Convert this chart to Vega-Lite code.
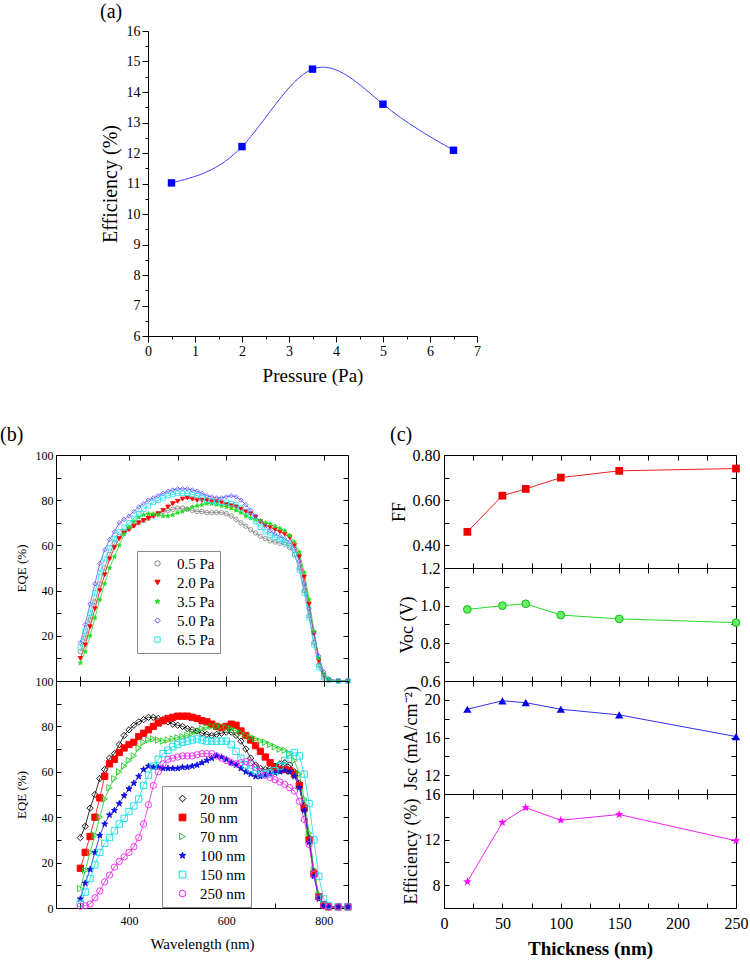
{
"$schema": "https://vega.github.io/schema/vega-lite/v6.json",
"background": "white",
"padding": {"left": 0, "top": 2, "right": 2, "bottom": 2},
"config": {
 "font": "Liberation Serif",
 "view": {"stroke": null},
 "axis": {"grid": false, "domainColor": "#000", "tickColor": "#000", "labelColor": "#000", "titleColor": "#000", "titleFontWeight": "normal", "labelFont": "Liberation Serif", "titleFont": "Liberation Serif", "labelFlush": false, "labelOverlap": false},
 "title": {"font": "Liberation Serif", "fontWeight": "normal", "color": "#000"},
 "legend": {"labelFont": "Liberation Serif", "labelColor": "#000"}
},
"datasets": {
 "pa": [{"p":0.5,"eff":11.02},{"p":2,"eff":12.21},{"p":3.5,"eff":14.75},{"p":5,"eff":13.6},{"p":6.5,"eff":12.09}],
 "thk": [
  {"t":20,"ff":0.46,"voc":0.98,"jsc":19.0,"eff":8.3},
  {"t":50,"ff":0.62,"voc":1.0,"jsc":19.9,"eff":13.5},
  {"t":70,"ff":0.65,"voc":1.01,"jsc":19.7,"eff":14.8},
  {"t":100,"ff":0.70,"voc":0.95,"jsc":19.0,"eff":13.7},
  {"t":150,"ff":0.73,"voc":0.93,"jsc":18.4,"eff":14.2},
  {"t":250,"ff":0.74,"voc":0.91,"jsc":16.1,"eff":11.9}
 ],
 "eqeP": [
{"s":"0.5 Pa","w":300,"e":13},{"s":"0.5 Pa","w":310,"e":19},{"s":"0.5 Pa","w":320,"e":27},{"s":"0.5 Pa","w":330,"e":35},{"s":"0.5 Pa","w":340,"e":43},{"s":"0.5 Pa","w":350,"e":50},{"s":"0.5 Pa","w":360,"e":56},{"s":"0.5 Pa","w":370,"e":61},{"s":"0.5 Pa","w":380,"e":64},{"s":"0.5 Pa","w":390,"e":66},{"s":"0.5 Pa","w":400,"e":67.5},
{"s":"0.5 Pa","w":410,"e":69},{"s":"0.5 Pa","w":420,"e":70},{"s":"0.5 Pa","w":430,"e":71},{"s":"0.5 Pa","w":440,"e":72},{"s":"0.5 Pa","w":450,"e":73},{"s":"0.5 Pa","w":460,"e":74},{"s":"0.5 Pa","w":470,"e":75},{"s":"0.5 Pa","w":480,"e":75.5},{"s":"0.5 Pa","w":490,"e":76},{"s":"0.5 Pa","w":500,"e":76.5},
{"s":"0.5 Pa","w":510,"e":76.5},{"s":"0.5 Pa","w":520,"e":76},{"s":"0.5 Pa","w":530,"e":75.5},{"s":"0.5 Pa","w":540,"e":75},{"s":"0.5 Pa","w":550,"e":75},{"s":"0.5 Pa","w":560,"e":74.5},{"s":"0.5 Pa","w":570,"e":74.5},{"s":"0.5 Pa","w":580,"e":74.5},{"s":"0.5 Pa","w":590,"e":74.5},{"s":"0.5 Pa","w":600,"e":74},
{"s":"0.5 Pa","w":610,"e":73},{"s":"0.5 Pa","w":620,"e":71.5},{"s":"0.5 Pa","w":630,"e":70},{"s":"0.5 Pa","w":640,"e":68.5},{"s":"0.5 Pa","w":650,"e":67},{"s":"0.5 Pa","w":660,"e":65.5},{"s":"0.5 Pa","w":670,"e":64},{"s":"0.5 Pa","w":680,"e":63},{"s":"0.5 Pa","w":690,"e":62},{"s":"0.5 Pa","w":700,"e":61.5},
{"s":"0.5 Pa","w":710,"e":61},{"s":"0.5 Pa","w":720,"e":60.5},{"s":"0.5 Pa","w":730,"e":59},{"s":"0.5 Pa","w":740,"e":56},{"s":"0.5 Pa","w":750,"e":50},{"s":"0.5 Pa","w":760,"e":40},{"s":"0.5 Pa","w":770,"e":29},{"s":"0.5 Pa","w":780,"e":17},{"s":"0.5 Pa","w":790,"e":7},{"s":"0.5 Pa","w":800,"e":2},{"s":"0.5 Pa","w":810,"e":0.5},{"s":"0.5 Pa","w":830,"e":0},{"s":"0.5 Pa","w":850,"e":0},
{"s":"2.0 Pa","w":300,"e":10},{"s":"2.0 Pa","w":310,"e":16},{"s":"2.0 Pa","w":320,"e":24},{"s":"2.0 Pa","w":330,"e":32},{"s":"2.0 Pa","w":340,"e":40},{"s":"2.0 Pa","w":350,"e":47},{"s":"2.0 Pa","w":360,"e":54},{"s":"2.0 Pa","w":370,"e":59},{"s":"2.0 Pa","w":380,"e":63},{"s":"2.0 Pa","w":390,"e":65.5},{"s":"2.0 Pa","w":400,"e":67},
{"s":"2.0 Pa","w":410,"e":68.5},{"s":"2.0 Pa","w":420,"e":70},{"s":"2.0 Pa","w":430,"e":71},{"s":"2.0 Pa","w":440,"e":72},{"s":"2.0 Pa","w":450,"e":73},{"s":"2.0 Pa","w":460,"e":74},{"s":"2.0 Pa","w":470,"e":75.5},{"s":"2.0 Pa","w":480,"e":77},{"s":"2.0 Pa","w":490,"e":78.5},{"s":"2.0 Pa","w":500,"e":79.5},
{"s":"2.0 Pa","w":510,"e":80.5},{"s":"2.0 Pa","w":520,"e":81},{"s":"2.0 Pa","w":530,"e":80.5},{"s":"2.0 Pa","w":540,"e":80},{"s":"2.0 Pa","w":550,"e":80},{"s":"2.0 Pa","w":560,"e":80},{"s":"2.0 Pa","w":570,"e":79.5},{"s":"2.0 Pa","w":580,"e":79.5},{"s":"2.0 Pa","w":590,"e":79},{"s":"2.0 Pa","w":600,"e":78},
{"s":"2.0 Pa","w":610,"e":77.5},{"s":"2.0 Pa","w":620,"e":77},{"s":"2.0 Pa","w":630,"e":76},{"s":"2.0 Pa","w":640,"e":75},{"s":"2.0 Pa","w":650,"e":74},{"s":"2.0 Pa","w":660,"e":72.5},{"s":"2.0 Pa","w":670,"e":70.5},{"s":"2.0 Pa","w":680,"e":69},{"s":"2.0 Pa","w":690,"e":68},{"s":"2.0 Pa","w":700,"e":67},
{"s":"2.0 Pa","w":710,"e":66},{"s":"2.0 Pa","w":720,"e":65},{"s":"2.0 Pa","w":730,"e":63.5},{"s":"2.0 Pa","w":740,"e":60},{"s":"2.0 Pa","w":750,"e":55},{"s":"2.0 Pa","w":760,"e":46},{"s":"2.0 Pa","w":770,"e":34},{"s":"2.0 Pa","w":780,"e":21},{"s":"2.0 Pa","w":790,"e":9},{"s":"2.0 Pa","w":800,"e":2.5},{"s":"2.0 Pa","w":810,"e":0.5},{"s":"2.0 Pa","w":830,"e":0},{"s":"2.0 Pa","w":850,"e":0},
{"s":"3.5 Pa","w":300,"e":8},{"s":"3.5 Pa","w":310,"e":13},{"s":"3.5 Pa","w":320,"e":20},{"s":"3.5 Pa","w":330,"e":28},{"s":"3.5 Pa","w":340,"e":36},{"s":"3.5 Pa","w":350,"e":43},{"s":"3.5 Pa","w":360,"e":50},{"s":"3.5 Pa","w":370,"e":55},{"s":"3.5 Pa","w":380,"e":60},{"s":"3.5 Pa","w":390,"e":65},{"s":"3.5 Pa","w":400,"e":68},
{"s":"3.5 Pa","w":410,"e":70.5},{"s":"3.5 Pa","w":420,"e":72.5},{"s":"3.5 Pa","w":430,"e":73.5},{"s":"3.5 Pa","w":440,"e":74},{"s":"3.5 Pa","w":450,"e":74},{"s":"3.5 Pa","w":460,"e":73.5},{"s":"3.5 Pa","w":470,"e":73},{"s":"3.5 Pa","w":480,"e":73},{"s":"3.5 Pa","w":490,"e":73.5},{"s":"3.5 Pa","w":500,"e":74.5},
{"s":"3.5 Pa","w":510,"e":75},{"s":"3.5 Pa","w":520,"e":76},{"s":"3.5 Pa","w":530,"e":77},{"s":"3.5 Pa","w":540,"e":77.5},{"s":"3.5 Pa","w":550,"e":78},{"s":"3.5 Pa","w":560,"e":78.5},{"s":"3.5 Pa","w":570,"e":78.5},{"s":"3.5 Pa","w":580,"e":78},{"s":"3.5 Pa","w":590,"e":77.5},{"s":"3.5 Pa","w":600,"e":77},
{"s":"3.5 Pa","w":610,"e":76.5},{"s":"3.5 Pa","w":620,"e":75.5},{"s":"3.5 Pa","w":630,"e":74.5},{"s":"3.5 Pa","w":640,"e":73},{"s":"3.5 Pa","w":650,"e":72},{"s":"3.5 Pa","w":660,"e":71.5},{"s":"3.5 Pa","w":670,"e":71},{"s":"3.5 Pa","w":680,"e":70},{"s":"3.5 Pa","w":690,"e":69.5},{"s":"3.5 Pa","w":700,"e":68.5},
{"s":"3.5 Pa","w":710,"e":67.5},{"s":"3.5 Pa","w":720,"e":66.5},{"s":"3.5 Pa","w":730,"e":64.5},{"s":"3.5 Pa","w":740,"e":61.5},{"s":"3.5 Pa","w":750,"e":57},{"s":"3.5 Pa","w":760,"e":48},{"s":"3.5 Pa","w":770,"e":36},{"s":"3.5 Pa","w":780,"e":22},{"s":"3.5 Pa","w":790,"e":10},{"s":"3.5 Pa","w":800,"e":3},{"s":"3.5 Pa","w":810,"e":0.5},{"s":"3.5 Pa","w":830,"e":0},{"s":"3.5 Pa","w":850,"e":0},
{"s":"5.0 Pa","w":300,"e":17},{"s":"5.0 Pa","w":310,"e":25},{"s":"5.0 Pa","w":320,"e":34},{"s":"5.0 Pa","w":330,"e":43},{"s":"5.0 Pa","w":340,"e":52},{"s":"5.0 Pa","w":350,"e":58},{"s":"5.0 Pa","w":360,"e":62.5},{"s":"5.0 Pa","w":370,"e":66},{"s":"5.0 Pa","w":380,"e":70},{"s":"5.0 Pa","w":390,"e":71.5},{"s":"5.0 Pa","w":400,"e":73},
{"s":"5.0 Pa","w":410,"e":75},{"s":"5.0 Pa","w":420,"e":77},{"s":"5.0 Pa","w":430,"e":78.5},{"s":"5.0 Pa","w":440,"e":80},{"s":"5.0 Pa","w":450,"e":81},{"s":"5.0 Pa","w":460,"e":82},{"s":"5.0 Pa","w":470,"e":83},{"s":"5.0 Pa","w":480,"e":84},{"s":"5.0 Pa","w":490,"e":84.5},{"s":"5.0 Pa","w":500,"e":85},
{"s":"5.0 Pa","w":510,"e":85},{"s":"5.0 Pa","w":520,"e":85},{"s":"5.0 Pa","w":530,"e":84.5},{"s":"5.0 Pa","w":540,"e":84},{"s":"5.0 Pa","w":550,"e":83},{"s":"5.0 Pa","w":560,"e":82},{"s":"5.0 Pa","w":570,"e":81.5},{"s":"5.0 Pa","w":580,"e":81},{"s":"5.0 Pa","w":590,"e":81},{"s":"5.0 Pa","w":600,"e":81.5},
{"s":"5.0 Pa","w":610,"e":82},{"s":"5.0 Pa","w":620,"e":81.5},{"s":"5.0 Pa","w":630,"e":80},{"s":"5.0 Pa","w":640,"e":78},{"s":"5.0 Pa","w":650,"e":75.5},{"s":"5.0 Pa","w":660,"e":73},{"s":"5.0 Pa","w":670,"e":70.5},{"s":"5.0 Pa","w":680,"e":68.5},{"s":"5.0 Pa","w":690,"e":66.5},{"s":"5.0 Pa","w":700,"e":65},
{"s":"5.0 Pa","w":710,"e":64},{"s":"5.0 Pa","w":720,"e":63},{"s":"5.0 Pa","w":730,"e":61.5},{"s":"5.0 Pa","w":740,"e":58.5},{"s":"5.0 Pa","w":750,"e":53},{"s":"5.0 Pa","w":760,"e":43},{"s":"5.0 Pa","w":770,"e":32},{"s":"5.0 Pa","w":780,"e":21},{"s":"5.0 Pa","w":790,"e":11},{"s":"5.0 Pa","w":800,"e":4},{"s":"5.0 Pa","w":810,"e":1},{"s":"5.0 Pa","w":830,"e":0},{"s":"5.0 Pa","w":850,"e":0},
{"s":"6.5 Pa","w":300,"e":15},{"s":"6.5 Pa","w":310,"e":22},{"s":"6.5 Pa","w":320,"e":30},{"s":"6.5 Pa","w":330,"e":39},{"s":"6.5 Pa","w":340,"e":48},{"s":"6.5 Pa","w":350,"e":54},{"s":"6.5 Pa","w":360,"e":59},{"s":"6.5 Pa","w":370,"e":63},{"s":"6.5 Pa","w":380,"e":66},{"s":"6.5 Pa","w":390,"e":68},{"s":"6.5 Pa","w":400,"e":70},
{"s":"6.5 Pa","w":410,"e":72},{"s":"6.5 Pa","w":420,"e":74},{"s":"6.5 Pa","w":430,"e":76},{"s":"6.5 Pa","w":440,"e":77.5},{"s":"6.5 Pa","w":450,"e":79},{"s":"6.5 Pa","w":460,"e":80},{"s":"6.5 Pa","w":470,"e":81},{"s":"6.5 Pa","w":480,"e":82},{"s":"6.5 Pa","w":490,"e":82.5},{"s":"6.5 Pa","w":500,"e":83},
{"s":"6.5 Pa","w":510,"e":83},{"s":"6.5 Pa","w":520,"e":83},{"s":"6.5 Pa","w":530,"e":82.5},{"s":"6.5 Pa","w":540,"e":82},{"s":"6.5 Pa","w":550,"e":81},{"s":"6.5 Pa","w":560,"e":80},{"s":"6.5 Pa","w":570,"e":79.5},{"s":"6.5 Pa","w":580,"e":79},{"s":"6.5 Pa","w":590,"e":79},{"s":"6.5 Pa","w":600,"e":79},
{"s":"6.5 Pa","w":610,"e":78.5},{"s":"6.5 Pa","w":620,"e":78},{"s":"6.5 Pa","w":630,"e":76.5},{"s":"6.5 Pa","w":640,"e":75},{"s":"6.5 Pa","w":650,"e":73},{"s":"6.5 Pa","w":660,"e":70.5},{"s":"6.5 Pa","w":670,"e":68},{"s":"6.5 Pa","w":680,"e":66},{"s":"6.5 Pa","w":690,"e":64.5},{"s":"6.5 Pa","w":700,"e":63.5},
{"s":"6.5 Pa","w":710,"e":62.5},{"s":"6.5 Pa","w":720,"e":61.5},{"s":"6.5 Pa","w":730,"e":60},{"s":"6.5 Pa","w":740,"e":56},{"s":"6.5 Pa","w":750,"e":49},{"s":"6.5 Pa","w":760,"e":39},{"s":"6.5 Pa","w":770,"e":28},{"s":"6.5 Pa","w":780,"e":16},{"s":"6.5 Pa","w":790,"e":6},{"s":"6.5 Pa","w":800,"e":1.5},{"s":"6.5 Pa","w":810,"e":0.5},{"s":"6.5 Pa","w":830,"e":0},{"s":"6.5 Pa","w":850,"e":0}
 ],
 "eqeT": [
{"s":"20 nm","w":300,"e":31},{"s":"20 nm","w":310,"e":36},{"s":"20 nm","w":320,"e":44},{"s":"20 nm","w":330,"e":50},{"s":"20 nm","w":340,"e":57},{"s":"20 nm","w":350,"e":61},{"s":"20 nm","w":360,"e":66},{"s":"20 nm","w":370,"e":68},{"s":"20 nm","w":380,"e":72},{"s":"20 nm","w":390,"e":76},{"s":"20 nm","w":400,"e":78.5},
{"s":"20 nm","w":410,"e":80.5},{"s":"20 nm","w":420,"e":82},{"s":"20 nm","w":430,"e":83},{"s":"20 nm","w":440,"e":84},{"s":"20 nm","w":450,"e":84},{"s":"20 nm","w":460,"e":83.5},{"s":"20 nm","w":470,"e":83},{"s":"20 nm","w":480,"e":82},{"s":"20 nm","w":490,"e":81},{"s":"20 nm","w":500,"e":80.5},
{"s":"20 nm","w":510,"e":80},{"s":"20 nm","w":520,"e":79},{"s":"20 nm","w":530,"e":78.5},{"s":"20 nm","w":540,"e":78},{"s":"20 nm","w":550,"e":77},{"s":"20 nm","w":560,"e":76.5},{"s":"20 nm","w":570,"e":76},{"s":"20 nm","w":580,"e":76.5},{"s":"20 nm","w":590,"e":77},{"s":"20 nm","w":600,"e":77.5},
{"s":"20 nm","w":610,"e":77.5},{"s":"20 nm","w":620,"e":76},{"s":"20 nm","w":630,"e":73.5},{"s":"20 nm","w":640,"e":70},{"s":"20 nm","w":650,"e":66},{"s":"20 nm","w":660,"e":63},{"s":"20 nm","w":670,"e":61.5},{"s":"20 nm","w":680,"e":61},{"s":"20 nm","w":690,"e":61.5},{"s":"20 nm","w":700,"e":62.5},
{"s":"20 nm","w":710,"e":63.5},{"s":"20 nm","w":720,"e":64},{"s":"20 nm","w":730,"e":63},{"s":"20 nm","w":740,"e":60},{"s":"20 nm","w":750,"e":55},{"s":"20 nm","w":760,"e":45},{"s":"20 nm","w":770,"e":31},{"s":"20 nm","w":780,"e":16},{"s":"20 nm","w":790,"e":5},{"s":"20 nm","w":800,"e":1.5},{"s":"20 nm","w":810,"e":0.5},{"s":"20 nm","w":830,"e":0.5},{"s":"20 nm","w":850,"e":0.5},
{"s":"50 nm","w":300,"e":17.5},{"s":"50 nm","w":310,"e":24.5},{"s":"50 nm","w":320,"e":31.5},{"s":"50 nm","w":330,"e":40},{"s":"50 nm","w":340,"e":48.5},{"s":"50 nm","w":350,"e":58},{"s":"50 nm","w":360,"e":63.5},{"s":"50 nm","w":370,"e":65.5},{"s":"50 nm","w":380,"e":68.5},{"s":"50 nm","w":390,"e":70.5},{"s":"50 nm","w":400,"e":72},
{"s":"50 nm","w":410,"e":73},{"s":"50 nm","w":420,"e":75.5},{"s":"50 nm","w":430,"e":77},{"s":"50 nm","w":440,"e":78.5},{"s":"50 nm","w":450,"e":80},{"s":"50 nm","w":460,"e":81.5},{"s":"50 nm","w":470,"e":82.5},{"s":"50 nm","w":480,"e":83.5},{"s":"50 nm","w":490,"e":84},{"s":"50 nm","w":500,"e":84.5},
{"s":"50 nm","w":510,"e":84.5},{"s":"50 nm","w":520,"e":84.5},{"s":"50 nm","w":530,"e":84},{"s":"50 nm","w":540,"e":83.5},{"s":"50 nm","w":550,"e":82.5},{"s":"50 nm","w":560,"e":82},{"s":"50 nm","w":570,"e":81},{"s":"50 nm","w":580,"e":80},{"s":"50 nm","w":590,"e":79.5},{"s":"50 nm","w":600,"e":80},
{"s":"50 nm","w":610,"e":81},{"s":"50 nm","w":620,"e":80.5},{"s":"50 nm","w":630,"e":78},{"s":"50 nm","w":640,"e":76},{"s":"50 nm","w":650,"e":74},{"s":"50 nm","w":660,"e":71.5},{"s":"50 nm","w":670,"e":69},{"s":"50 nm","w":680,"e":66.5},{"s":"50 nm","w":690,"e":64},{"s":"50 nm","w":700,"e":62},
{"s":"50 nm","w":710,"e":61},{"s":"50 nm","w":720,"e":61},{"s":"50 nm","w":730,"e":60.5},{"s":"50 nm","w":740,"e":59},{"s":"50 nm","w":750,"e":54},{"s":"50 nm","w":760,"e":44},{"s":"50 nm","w":770,"e":30},{"s":"50 nm","w":780,"e":15},{"s":"50 nm","w":790,"e":5},{"s":"50 nm","w":800,"e":1.5},{"s":"50 nm","w":810,"e":0.5},{"s":"50 nm","w":830,"e":0.5},{"s":"50 nm","w":850,"e":0.5},
{"s":"70 nm","w":300,"e":8.5},{"s":"70 nm","w":310,"e":16.5},{"s":"70 nm","w":320,"e":24.5},{"s":"70 nm","w":330,"e":32},{"s":"70 nm","w":340,"e":40},{"s":"70 nm","w":350,"e":48},{"s":"70 nm","w":360,"e":53},{"s":"70 nm","w":370,"e":57},{"s":"70 nm","w":380,"e":60},{"s":"70 nm","w":390,"e":62.5},{"s":"70 nm","w":400,"e":65},
{"s":"70 nm","w":410,"e":67},{"s":"70 nm","w":420,"e":70.5},{"s":"70 nm","w":430,"e":73},{"s":"70 nm","w":440,"e":74},{"s":"70 nm","w":450,"e":74.5},{"s":"70 nm","w":460,"e":74},{"s":"70 nm","w":470,"e":73.5},{"s":"70 nm","w":480,"e":74},{"s":"70 nm","w":490,"e":74.5},{"s":"70 nm","w":500,"e":75},
{"s":"70 nm","w":510,"e":75.5},{"s":"70 nm","w":520,"e":76},{"s":"70 nm","w":530,"e":77},{"s":"70 nm","w":540,"e":78},{"s":"70 nm","w":550,"e":79},{"s":"70 nm","w":560,"e":79.5},{"s":"70 nm","w":570,"e":80},{"s":"70 nm","w":580,"e":80},{"s":"70 nm","w":590,"e":80},{"s":"70 nm","w":600,"e":79.5},
{"s":"70 nm","w":610,"e":79},{"s":"70 nm","w":620,"e":78},{"s":"70 nm","w":630,"e":77},{"s":"70 nm","w":640,"e":76},{"s":"70 nm","w":650,"e":75.5},{"s":"70 nm","w":660,"e":74.5},{"s":"70 nm","w":670,"e":73.5},{"s":"70 nm","w":680,"e":73},{"s":"70 nm","w":690,"e":72},{"s":"70 nm","w":700,"e":71},
{"s":"70 nm","w":710,"e":70},{"s":"70 nm","w":720,"e":69.5},{"s":"70 nm","w":730,"e":68},{"s":"70 nm","w":740,"e":65},{"s":"70 nm","w":750,"e":59},{"s":"70 nm","w":760,"e":48},{"s":"70 nm","w":770,"e":33},{"s":"70 nm","w":780,"e":17},{"s":"70 nm","w":790,"e":6},{"s":"70 nm","w":800,"e":1.5},{"s":"70 nm","w":810,"e":0.5},{"s":"70 nm","w":830,"e":0.5},{"s":"70 nm","w":850,"e":0.5},
{"s":"100 nm","w":300,"e":4},{"s":"100 nm","w":310,"e":11},{"s":"100 nm","w":320,"e":17},{"s":"100 nm","w":330,"e":24.5},{"s":"100 nm","w":340,"e":32},{"s":"100 nm","w":350,"e":37},{"s":"100 nm","w":360,"e":41},{"s":"100 nm","w":370,"e":43},{"s":"100 nm","w":380,"e":46},{"s":"100 nm","w":390,"e":49.5},{"s":"100 nm","w":400,"e":52.5},
{"s":"100 nm","w":410,"e":55},{"s":"100 nm","w":420,"e":58},{"s":"100 nm","w":430,"e":61},{"s":"100 nm","w":440,"e":62.5},{"s":"100 nm","w":450,"e":62},{"s":"100 nm","w":460,"e":62},{"s":"100 nm","w":470,"e":61.5},{"s":"100 nm","w":480,"e":61.5},{"s":"100 nm","w":490,"e":61.5},{"s":"100 nm","w":500,"e":61.5},
{"s":"100 nm","w":510,"e":62},{"s":"100 nm","w":520,"e":62},{"s":"100 nm","w":530,"e":62.5},{"s":"100 nm","w":540,"e":63},{"s":"100 nm","w":550,"e":64},{"s":"100 nm","w":560,"e":65},{"s":"100 nm","w":570,"e":66},{"s":"100 nm","w":580,"e":67},{"s":"100 nm","w":590,"e":66.5},{"s":"100 nm","w":600,"e":65.5},
{"s":"100 nm","w":610,"e":64},{"s":"100 nm","w":620,"e":63},{"s":"100 nm","w":630,"e":61.5},{"s":"100 nm","w":640,"e":60},{"s":"100 nm","w":650,"e":59},{"s":"100 nm","w":660,"e":58},{"s":"100 nm","w":670,"e":58},{"s":"100 nm","w":680,"e":58.5},{"s":"100 nm","w":690,"e":59},{"s":"100 nm","w":700,"e":59.5},
{"s":"100 nm","w":710,"e":60},{"s":"100 nm","w":720,"e":60.5},{"s":"100 nm","w":730,"e":60},{"s":"100 nm","w":740,"e":58},{"s":"100 nm","w":750,"e":53},{"s":"100 nm","w":760,"e":43},{"s":"100 nm","w":770,"e":29},{"s":"100 nm","w":780,"e":14},{"s":"100 nm","w":790,"e":4},{"s":"100 nm","w":800,"e":1},{"s":"100 nm","w":810,"e":0.5},{"s":"100 nm","w":830,"e":0.5},{"s":"100 nm","w":850,"e":0.5},
{"s":"150 nm","w":300,"e":2},{"s":"150 nm","w":310,"e":7},{"s":"150 nm","w":320,"e":13},{"s":"150 nm","w":330,"e":19},{"s":"150 nm","w":340,"e":24.5},{"s":"150 nm","w":350,"e":28.5},{"s":"150 nm","w":360,"e":31},{"s":"150 nm","w":370,"e":34},{"s":"150 nm","w":380,"e":37},{"s":"150 nm","w":390,"e":39.5},{"s":"150 nm","w":400,"e":42.5},
{"s":"150 nm","w":410,"e":45},{"s":"150 nm","w":420,"e":48},{"s":"150 nm","w":430,"e":54},{"s":"150 nm","w":440,"e":58.5},{"s":"150 nm","w":450,"e":62.5},{"s":"150 nm","w":460,"e":65.5},{"s":"150 nm","w":470,"e":68},{"s":"150 nm","w":480,"e":69.5},{"s":"150 nm","w":490,"e":71},{"s":"150 nm","w":500,"e":72},
{"s":"150 nm","w":510,"e":73},{"s":"150 nm","w":520,"e":73.5},{"s":"150 nm","w":530,"e":74},{"s":"150 nm","w":540,"e":74.5},{"s":"150 nm","w":550,"e":74},{"s":"150 nm","w":560,"e":73.5},{"s":"150 nm","w":570,"e":73.5},{"s":"150 nm","w":580,"e":73.5},{"s":"150 nm","w":590,"e":73.5},{"s":"150 nm","w":600,"e":73.5},
{"s":"150 nm","w":610,"e":72},{"s":"150 nm","w":620,"e":69},{"s":"150 nm","w":630,"e":66},{"s":"150 nm","w":640,"e":63},{"s":"150 nm","w":650,"e":61.5},{"s":"150 nm","w":660,"e":60.5},{"s":"150 nm","w":670,"e":59.5},{"s":"150 nm","w":680,"e":59},{"s":"150 nm","w":690,"e":59.5},{"s":"150 nm","w":700,"e":60.5},
{"s":"150 nm","w":710,"e":62.5},{"s":"150 nm","w":720,"e":65},{"s":"150 nm","w":730,"e":67.5},{"s":"150 nm","w":740,"e":68.5},{"s":"150 nm","w":750,"e":67},{"s":"150 nm","w":760,"e":59},{"s":"150 nm","w":770,"e":46},{"s":"150 nm","w":780,"e":30},{"s":"150 nm","w":790,"e":14},{"s":"150 nm","w":800,"e":4},{"s":"150 nm","w":810,"e":1},{"s":"150 nm","w":830,"e":0.5},{"s":"150 nm","w":850,"e":0.5},
{"s":"250 nm","w":300,"e":0.8},{"s":"250 nm","w":310,"e":1},{"s":"250 nm","w":320,"e":1.8},{"s":"250 nm","w":330,"e":4.5},{"s":"250 nm","w":340,"e":7.5},{"s":"250 nm","w":350,"e":11.5},{"s":"250 nm","w":360,"e":14.5},{"s":"250 nm","w":370,"e":18},{"s":"250 nm","w":380,"e":20.5},{"s":"250 nm","w":390,"e":22.5},{"s":"250 nm","w":400,"e":24.5},
{"s":"250 nm","w":410,"e":27},{"s":"250 nm","w":420,"e":31},{"s":"250 nm","w":430,"e":37},{"s":"250 nm","w":440,"e":45.5},{"s":"250 nm","w":450,"e":54},{"s":"250 nm","w":460,"e":60},{"s":"250 nm","w":470,"e":63.5},{"s":"250 nm","w":480,"e":65.5},{"s":"250 nm","w":490,"e":66},{"s":"250 nm","w":500,"e":66.5},
{"s":"250 nm","w":510,"e":67},{"s":"250 nm","w":520,"e":67},{"s":"250 nm","w":530,"e":67},{"s":"250 nm","w":540,"e":67.5},{"s":"250 nm","w":550,"e":68},{"s":"250 nm","w":560,"e":68},{"s":"250 nm","w":570,"e":68},{"s":"250 nm","w":580,"e":67},{"s":"250 nm","w":590,"e":66},{"s":"250 nm","w":600,"e":65},
{"s":"250 nm","w":610,"e":64},{"s":"250 nm","w":620,"e":63.5},{"s":"250 nm","w":630,"e":64},{"s":"250 nm","w":640,"e":64.5},{"s":"250 nm","w":650,"e":64},{"s":"250 nm","w":660,"e":62},{"s":"250 nm","w":670,"e":60},{"s":"250 nm","w":680,"e":58.5},{"s":"250 nm","w":690,"e":57.5},{"s":"250 nm","w":700,"e":56.5},
{"s":"250 nm","w":710,"e":55.5},{"s":"250 nm","w":720,"e":54.5},{"s":"250 nm","w":730,"e":53},{"s":"250 nm","w":740,"e":51.5},{"s":"250 nm","w":750,"e":47},{"s":"250 nm","w":760,"e":39},{"s":"250 nm","w":770,"e":28},{"s":"250 nm","w":780,"e":15},{"s":"250 nm","w":790,"e":5},{"s":"250 nm","w":800,"e":1},{"s":"250 nm","w":810,"e":0.5},{"s":"250 nm","w":830,"e":0.5},{"s":"250 nm","w":850,"e":0.5}
 ]
},
"spacing": 40,
"vconcat": [
 {
  "spacing": 0,
  "hconcat": [
   {"width": 44, "height": 10, "data": {"values": [{"a": 1}]}, "mark": {"type": "point", "opacity": 0}},
   {
    "width": 329, "height": 305,
    "title": {"text": "(a)", "anchor": "start", "fontSize": 20, "dx": 0, "offset": 2, "font": "Liberation Serif"},
    "data": {"name": "pa"},
    "encoding": {
     "x": {"field": "p", "type": "quantitative", "scale": {"domain": [0, 7], "nice": false, "zero": false},
      "axis": {"title": "Pressure (Pa)", "values": [0,0.5,1,1.5,2,2.5,3,3.5,4,4.5,5,5.5,6,6.5,7], "labelExpr": "datum.value % 1 === 0 ? format(datum.value, 'd') : ''", "tickSize": {"condition": {"test": "datum.value % 1 === 0", "value": 6}, "value": 3}, "labelFont": "Liberation Serif", "titleFont": "Liberation Serif", "labelOverlap": false, "labelFlush": false, "labelFontSize": 14, "titleFontSize": 19, "titlePadding": 8, "labelPadding": 2}},
     "y": {"field": "eff", "type": "quantitative", "scale": {"domain": [6, 16], "nice": false, "zero": false},
      "axis": {"title": "Efficiency (%)", "values": [6,6.5,7,7.5,8,8.5,9,9.5,10,10.5,11,11.5,12,12.5,13,13.5,14,14.5,15,15.5,16], "labelExpr": "datum.value % 1 === 0 ? format(datum.value, 'd') : ''", "tickSize": {"condition": {"test": "datum.value % 1 === 0", "value": 6}, "value": 3}, "labelFont": "Liberation Serif", "titleFont": "Liberation Serif", "labelOverlap": false, "labelFlush": false, "labelFontSize": 14, "titleFontSize": 20, "titlePadding": 6, "labelPadding": 2}}
    },
    "layer": [
     {"mark": {"type": "line", "interpolate": "natural", "color": "#4040ff", "strokeWidth": 1}},
     {"mark": {"type": "point", "shape": "square", "filled": true, "color": "#0000ff", "size": 55, "opacity": 1}}
    ]
   }
  ]
 },
 {
  "spacing": 37,
  "resolve": {"scale": {"x": "independent", "y": "independent", "color": "independent", "stroke": "independent", "fill": "independent", "shape": "independent"}},
  "hconcat": [
   {
    "title": {"text": "(b)", "anchor": "start", "fontSize": 20, "offset": 4, "dx": -15, "font": "Liberation Serif"},
    "spacing": 0,
    "bounds": "flush",
    "resolve": {"scale": {"x": "independent", "y": "independent", "color": "independent", "stroke": "independent", "fill": "independent", "shape": "independent"}},
    "vconcat": [
     {
      "width": 292, "height": 226,
      "data": {"name": "eqeP"},
      "layer": [
       {"mark": {"type": "line", "strokeWidth": 0.8},
        "encoding": {
         "x": {"field": "w", "type": "quantitative", "scale": {"domain": [250, 850], "nice": false, "zero": false}, "axis": {"orient": "bottom", "title": null, "values": [300,400,500,600,700,800], "labels": false, "tickSize": -5}},
         "y": {"field": "e", "type": "quantitative", "scale": {"domain": [0, 100], "nice": false}, "axis": {"orient": "left", "title": "EQE (%)", "values": [0,10,20,30,40,50,60,70,80,90,100], "labelExpr": "datum.value % 20 === 0 && datum.value > 0 ? format(datum.value, 'd') : ''", "tickSize": -5, "labelPadding": 8, "labelFont": "Liberation Serif", "titleFont": "Liberation Serif", "labelOverlap": false, "labelFlush": false, "labelFontSize": 12, "titleFontSize": 13, "titlePadding": 7}},
         "color": {"field": "s", "type": "nominal", "scale": {"domain": ["6.5 Pa","5.0 Pa","3.5 Pa","2.0 Pa","0.5 Pa"], "range": ["#22e0ee","#5050ff","#22dd22","#ff0000","#808080"]}, "legend": null}
        }},
       {"mark": {"type": "point", "size": 20, "strokeWidth": 0.8, "opacity": 1},
        "encoding": {
         "x": {"field": "w", "type": "quantitative", "axis": {"orient": "top", "title": null, "values": [300,400,500,600,700,800], "labels": false, "tickSize": -5}},
         "y": {"field": "e", "type": "quantitative", "axis": {"orient": "right", "title": null, "values": [0,10,20,30,40,50,60,70,80,90,100], "labels": false, "tickSize": -5}},
         "stroke": {"field": "s", "type": "nominal", "scale": {"domain": ["0.5 Pa","2.0 Pa","3.5 Pa","5.0 Pa","6.5 Pa"], "range": ["#808080","#ff0000","#22dd22","#5050ff","#22e0ee"]},
          "legend": {"orient": "none", "legendX": 81, "legendY": 96, "title": null, "strokeColor": "#888", "fillColor": "#fff", "padding": 5, "labelFont": "Liberation Serif", "labelFontSize": 15, "symbolSize": 28, "symbolStrokeWidth": 1, "rowPadding": 3, "symbolOffset": 8, "labelOffset": 12}},
         "fill": {"field": "s", "type": "nominal", "scale": {"domain": ["0.5 Pa","2.0 Pa","3.5 Pa","5.0 Pa","6.5 Pa"], "range": ["transparent","#ff0000","#22dd22","transparent","transparent"]},
          "legend": {"orient": "none", "legendX": 81, "legendY": 96, "title": null, "strokeColor": "#888", "fillColor": "#fff", "padding": 5, "labelFont": "Liberation Serif", "labelFontSize": 15, "symbolSize": 28, "symbolStrokeWidth": 1, "rowPadding": 3, "symbolOffset": 8, "labelOffset": 12}},
         "shape": {"field": "s", "type": "nominal", "scale": {"domain": ["0.5 Pa","2.0 Pa","3.5 Pa","5.0 Pa","6.5 Pa"], "range": ["circle","triangle-down","M0,-1L0.235,-0.324L0.951,-0.309L0.38,0.124L0.588,0.809L0,0.4L-0.588,0.809L-0.38,0.124L-0.951,-0.309L-0.235,-0.324Z","diamond","square"]},
          "legend": {"orient": "none", "legendX": 81, "legendY": 96, "title": null, "strokeColor": "#888", "fillColor": "#fff", "padding": 5, "labelFont": "Liberation Serif", "labelFontSize": 15, "symbolSize": 28, "symbolStrokeWidth": 1, "rowPadding": 3, "symbolOffset": 8, "labelOffset": 12}}
        }}
      ],
      "resolve": {"axis": {"x": "independent", "y": "independent"}}
     },
     {
      "width": 292, "height": 227,
      "data": {"name": "eqeT"},
      "layer": [
       {"mark": {"type": "line", "strokeWidth": 0.8},
        "encoding": {
         "x": {"field": "w", "type": "quantitative", "scale": {"domain": [250, 850], "nice": false, "zero": false}, "axis": {"orient": "bottom", "title": "Wavelength (nm)", "values": [300,400,500,600,700,800], "labelExpr": "datum.value % 200 === 0 ? format(datum.value, 'd') : ''", "tickSize": -5, "labelPadding": 12, "labelFont": "Liberation Serif", "titleFont": "Liberation Serif", "labelOverlap": false, "labelFlush": false, "labelFontSize": 12, "titleFontSize": 15, "titlePadding": 10}},
         "y": {"field": "e", "type": "quantitative", "scale": {"domain": [0, 100], "nice": false}, "axis": {"orient": "left", "title": "EQE (%)", "values": [0,10,20,30,40,50,60,70,80,90,100], "labelExpr": "datum.value % 20 === 0 ? format(datum.value, 'd') : ''", "tickSize": -5, "labelPadding": 8, "labelFont": "Liberation Serif", "titleFont": "Liberation Serif", "labelOverlap": false, "labelFlush": false, "labelFontSize": 12, "titleFontSize": 13, "titlePadding": 7}},
         "color": {"field": "s", "type": "nominal", "scale": {"domain": ["250 nm","150 nm","100 nm","70 nm","50 nm","20 nm"], "range": ["#ee22ee","#10dde8","#1010e0","#22cc22","#ff0000","#000000"]}, "legend": null}
        }},
       {"mark": {"type": "point", "size": 40, "strokeWidth": 0.9, "opacity": 1},
        "encoding": {
         "x": {"field": "w", "type": "quantitative", "axis": {"orient": "top", "title": null, "values": [300,400,500,600,700,800], "labels": false, "tickSize": -5}},
         "y": {"field": "e", "type": "quantitative", "axis": {"orient": "right", "title": null, "values": [0,10,20,30,40,50,60,70,80,90,100], "labels": false, "tickSize": -5}},
         "stroke": {"field": "s", "type": "nominal", "scale": {"domain": ["20 nm","50 nm","70 nm","100 nm","150 nm","250 nm"], "range": ["#000000","#ff0000","#22cc22","#1010e0","#10dde8","#ee22ee"]},
          "legend": {"orient": "none", "legendX": 106, "legendY": 105, "title": null, "strokeColor": "#888", "fillColor": "#fff", "padding": 5, "labelFont": "Liberation Serif", "labelFontSize": 15, "symbolSize": 45, "symbolStrokeWidth": 1, "rowPadding": 3, "symbolOffset": 8, "labelOffset": 10}},
         "fill": {"field": "s", "type": "nominal", "scale": {"domain": ["20 nm","50 nm","70 nm","100 nm","150 nm","250 nm"], "range": ["transparent","#ff0000","transparent","#1010e0","transparent","transparent"]},
          "legend": {"orient": "none", "legendX": 106, "legendY": 105, "title": null, "strokeColor": "#888", "fillColor": "#fff", "padding": 5, "labelFont": "Liberation Serif", "labelFontSize": 15, "symbolSize": 45, "symbolStrokeWidth": 1, "rowPadding": 3, "symbolOffset": 8, "labelOffset": 10}},
         "shape": {"field": "s", "type": "nominal", "scale": {"domain": ["20 nm","50 nm","70 nm","100 nm","150 nm","250 nm"], "range": ["diamond","square","triangle-right","M0,-1L0.235,-0.324L0.951,-0.309L0.38,0.124L0.588,0.809L0,0.4L-0.588,0.809L-0.38,0.124L-0.951,-0.309L-0.235,-0.324Z","square","circle"]},
          "legend": {"orient": "none", "legendX": 106, "legendY": 105, "title": null, "strokeColor": "#888", "fillColor": "#fff", "padding": 5, "labelFont": "Liberation Serif", "labelFontSize": 15, "symbolSize": 45, "symbolStrokeWidth": 1, "rowPadding": 3, "symbolOffset": 8, "labelOffset": 10}}
        }}
      ],
      "resolve": {"axis": {"x": "independent", "y": "independent"}}
     }
    ]
   },
   {
    "title": {"text": "(c)", "anchor": "start", "fontSize": 20, "offset": 2, "font": "Liberation Serif"},
    "spacing": 0,
    "bounds": "flush",
    "resolve": {"scale": {"x": "independent", "y": "independent"}},
    "data": {"name": "thk"},
    "vconcat": [
     {
      "width": 292, "height": 113,
      "layer": [
       {"mark": {"type": "line", "color": "#ee2020", "strokeWidth": 1},
        "encoding": {
         "x": {"field": "t", "type": "quantitative", "scale": {"domain": [0, 250], "nice": false}, "axis": {"orient": "bottom", "title": null, "labels": false, "values": [0,25,50,75,100,125,150,175,200,225,250], "tickSize": -5}},
         "y": {"field": "ff", "type": "quantitative", "scale": {"domain": [0.3, 0.8], "nice": false, "zero": false}, "axis": {"orient": "left", "title": "FF", "values": [0.3,0.4,0.5,0.6,0.7,0.8], "labelExpr": "(datum.value === 0.4 || datum.value === 0.6 || datum.value === 0.8) ? format(datum.value, '.2f') : ''", "tickSize": -5, "labelPadding": 9, "labelFont": "Liberation Serif", "titleFont": "Liberation Serif", "labelOverlap": false, "labelFlush": false, "labelFontSize": 16, "titleFontSize": 18, "titlePadding": 4}}
        }},
       {"mark": {"type": "point", "shape": "square", "filled": true, "color": "#ee0000", "size": 60, "opacity": 1},
        "encoding": {
         "x": {"field": "t", "type": "quantitative", "axis": {"orient": "top", "title": null, "labels": false, "values": [0,25,50,75,100,125,150,175,200,225,250], "tickSize": -5}},
         "y": {"field": "ff", "type": "quantitative", "axis": {"orient": "right", "title": null, "labels": false, "values": [0.3,0.4,0.5,0.6,0.7,0.8], "tickSize": -5}}
        }}
      ],
      "resolve": {"axis": {"x": "independent", "y": "independent"}}
     },
     {
      "width": 292, "height": 113,
      "layer": [
       {"mark": {"type": "line", "color": "#22dd22", "strokeWidth": 1},
        "encoding": {
         "x": {"field": "t", "type": "quantitative", "scale": {"domain": [0, 250], "nice": false}, "axis": {"orient": "bottom", "title": null, "labels": false, "values": [0,25,50,75,100,125,150,175,200,225,250], "tickSize": -5}},
         "y": {"field": "voc", "type": "quantitative", "scale": {"domain": [0.6, 1.2], "nice": false, "zero": false}, "axis": {"orient": "left", "title": "Voc (V)", "values": [0.6,0.7,0.8,0.9,1.0,1.1,1.2], "labelExpr": "(datum.value === 0.6 || datum.value === 0.8 || datum.value === 1 || datum.value === 1.2) ? format(datum.value, '.1f') : ''", "tickSize": -5, "labelPadding": 9, "labelFont": "Liberation Serif", "titleFont": "Liberation Serif", "labelOverlap": false, "labelFlush": false, "labelFontSize": 16, "titleFontSize": 18, "titlePadding": 4}}
        }},
       {"mark": {"type": "point", "shape": "circle", "filled": true, "fill": "#66ee66", "stroke": "#11bb11", "strokeWidth": 1, "size": 60, "opacity": 1},
        "encoding": {
         "x": {"field": "t", "type": "quantitative", "axis": {"orient": "top", "title": null, "labels": false, "values": [0,25,50,75,100,125,150,175,200,225,250], "tickSize": -5}},
         "y": {"field": "voc", "type": "quantitative", "axis": {"orient": "right", "title": null, "labels": false, "values": [0.6,0.7,0.8,0.9,1.0,1.1,1.2], "tickSize": -5}}
        }}
      ],
      "resolve": {"axis": {"x": "independent", "y": "independent"}}
     },
     {
      "width": 292, "height": 113,
      "layer": [
       {"mark": {"type": "line", "color": "#3030ee", "strokeWidth": 1},
        "encoding": {
         "x": {"field": "t", "type": "quantitative", "scale": {"domain": [0, 250], "nice": false}, "axis": {"orient": "bottom", "title": null, "labels": false, "values": [0,25,50,75,100,125,150,175,200,225,250], "tickSize": -5}},
         "y": {"field": "jsc", "type": "quantitative", "scale": {"domain": [10, 22], "nice": false, "zero": false}, "axis": {"orient": "left", "title": "Jsc (mA/cm⁻²)", "values": [10,12,14,16,18,20,22], "labelExpr": "(datum.value % 4 === 0 && datum.value > 10 && datum.value < 22) ? format(datum.value, 'd') : ''", "tickSize": -5, "labelPadding": 9, "labelFont": "Liberation Serif", "titleFont": "Liberation Serif", "labelOverlap": false, "labelFlush": false, "labelFontSize": 16, "titleFontSize": 18, "titlePadding": 4}}
        }},
       {"mark": {"type": "point", "shape": "triangle-up", "filled": true, "color": "#0000ee", "size": 70, "opacity": 1},
        "encoding": {
         "x": {"field": "t", "type": "quantitative", "axis": {"orient": "top", "title": null, "labels": false, "values": [0,25,50,75,100,125,150,175,200,225,250], "tickSize": -5}},
         "y": {"field": "jsc", "type": "quantitative", "axis": {"orient": "right", "title": null, "labels": false, "values": [10,12,14,16,18,20,22], "tickSize": -5}}
        }}
      ],
      "resolve": {"axis": {"x": "independent", "y": "independent"}}
     },
     {
      "width": 292, "height": 114,
      "layer": [
       {"mark": {"type": "line", "color": "#ee22ee", "strokeWidth": 1},
        "encoding": {
         "x": {"field": "t", "type": "quantitative", "scale": {"domain": [0, 250], "nice": false}, "axis": {"orient": "bottom", "title": "Thickness (nm)", "values": [0,25,50,75,100,125,150,175,200,225,250], "labelExpr": "datum.value % 50 === 0 ? format(datum.value, 'd') : ''", "tickSize": -5, "labelPadding": 12, "labelFont": "Liberation Serif", "titleFont": "Liberation Serif", "labelOverlap": false, "labelFlush": false, "labelFontSize": 16, "titleFontSize": 19, "titleFontWeight": "bold", "titlePadding": 8}},
         "y": {"field": "eff", "type": "quantitative", "scale": {"domain": [6, 16], "nice": false, "zero": false}, "axis": {"orient": "left", "title": "Efficiency (%)", "values": [6,8,10,12,14,16], "labelExpr": "datum.value % 4 === 0 ? format(datum.value, 'd') : ''", "tickSize": -5, "labelPadding": 9, "labelFont": "Liberation Serif", "titleFont": "Liberation Serif", "labelOverlap": false, "labelFlush": false, "labelFontSize": 16, "titleFontSize": 18, "titlePadding": 4}}
        }},
       {"mark": {"type": "point", "shape": "M0,-1L0.235,-0.324L0.951,-0.309L0.38,0.124L0.588,0.809L0,0.4L-0.588,0.809L-0.38,0.124L-0.951,-0.309L-0.235,-0.324Z", "filled": true, "color": "#ff00ff", "size": 80, "opacity": 1},
        "encoding": {
         "x": {"field": "t", "type": "quantitative", "axis": {"orient": "top", "title": null, "labels": false, "values": [0,25,50,75,100,125,150,175,200,225,250], "tickSize": -5}},
         "y": {"field": "eff", "type": "quantitative", "axis": {"orient": "right", "title": null, "labels": false, "values": [6,8,10,12,14,16], "tickSize": -5}}
        }}
      ],
      "resolve": {"axis": {"x": "independent", "y": "independent"}}
     }
    ]
   }
  ]
 }
]
}
